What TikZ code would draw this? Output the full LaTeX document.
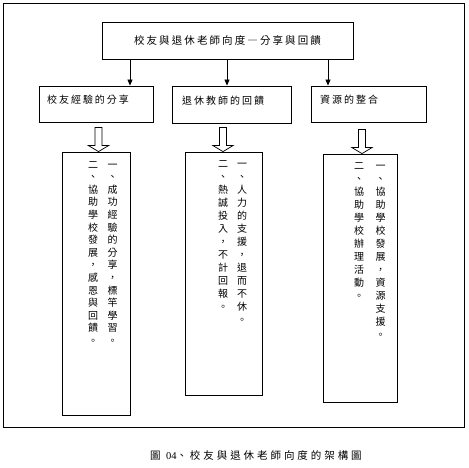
\documentclass[tikz,border=0pt]{standalone}
\usepackage{fontspec}
\setmainfont{Liberation Serif}
\newfontfamily\cjk{Noto Sans CJK TC}
\newfontfamily\cjkwide{Noto Sans CJK TC}[LetterSpace=20]
\newfontfamily\cjkwider{Noto Sans CJK TC}[LetterSpace=28]
\usetikzlibrary{arrows.meta}

% one column of upright text, one character per line
\newlength\vcolsep
\def\vcolend{\vcolend}
\newcommand\vcol[2][12pt]{\setlength\vcolsep{#1}\vbox{\offinterlineskip\vcolloop#2\vcolend}}
\def\vcolloop#1{\ifx\vcolend#1\else\vcell{#1}\expandafter\vcolloop\fi}
\newcommand\vcell[1]{\hbox to 1em{\hss\vrule height\dimexpr\vcolsep-.2em\relax depth .2em width 0pt#1\hss}}

\begin{document}
\begin{tikzpicture}[x=1pt, y=-1pt, >={Stealth[length=6pt,width=5pt,inset=0pt]}, line width=0.8pt,
  box/.style={draw, inner sep=0pt},
  htext/.style={font=\cjkwide\fontsize{10}{12}\selectfont, inner sep=0pt},
  vtext/.style={font=\cjk\fontsize{10}{12}\selectfont, inner sep=0pt},
  bigarrow/.style={draw, line width=0.7pt, line join=miter}]
  \useasboundingbox (0,0) rectangle (469,468);
  \draw (3.5,3.5) rectangle (464,427);
  % top
  \node[box, minimum width=251pt, minimum height=37pt, htext, font=\cjkwide\fontsize{10.5}{12}\selectfont] (title) at (227.5,40.5) {校友與退休老師向度―分享與回饋};
  % second row
  \node[box, minimum width=114pt, minimum height=36pt] (share) at (96,104) {};
  \node[htext, anchor=west] (shareT) at ([xshift=8pt,yshift=4pt]share.west) {校友經驗的分享};
  \node[box, minimum width=119pt, minimum height=37pt] (retire) at (231.5,104.5) {};
  \node[htext, anchor=west] (retireT) at ([xshift=10pt,yshift=4pt]retire.west) {退休教師的回饋};
  \node[box, minimum width=115pt, minimum height=36pt] (resource) at (368.5,104) {};
  \node[htext, anchor=west] (resourceT) at ([xshift=9pt,yshift=4pt]resource.west) {資源的整合};
  \draw[->] (title.south -| 130,0) -- (share.north -| 130,0);
  \draw[->] (title.south -| 227,0) -- (retire.north -| 227,0);
  \draw[->] (title.south -| 328,0) -- (resource.north -| 328,0);
  % tall boxes
  \node[box, minimum width=68pt, minimum height=263pt] (expA) at (96,283.5) {};
  \node[box, minimum width=77pt, minimum height=243pt] (expB) at (223.5,273.5) {};
  \node[box, minimum width=74pt, minimum height=248pt] (expC) at (360,278) {};
  % hollow arrows, drawn up from the tip
  \draw[bigarrow] ([shift={(-1,-24)}]expA.north) -- ++(0,18) -- ++(-6.5,0) -- ++(10,6) -- ++(10,-6) -- ++(-6.5,0) -- ++(0,-18) -- cycle;
  \draw[bigarrow] ([shift={(-4,-24)}]expB.north) -- ++(0,18) -- ++(-6.5,0) -- ++(10,6) -- ++(10,-6) -- ++(-6.5,0) -- ++(0,-18) -- cycle;
  \draw[bigarrow] ([shift={(-1.5,-24)}]expC.north) -- ++(0,18) -- ++(-6.5,0) -- ++(10,6) -- ++(10,-6) -- ++(-6.5,0) -- ++(0,-18) -- cycle;
  % columns, read right to left
  \node[vtext, anchor=north] (expA1) at (112.5,157) {\vcol[12.6pt]{一、成功經驗的分享，標竿學習。}};
  \node[vtext, anchor=north] (expA2) at (93,157) {\vcol[12.6pt]{二、協助學校發展，感恩與回饋。}};
  \node[vtext, anchor=north] (expB1) at (242,156) {\vcol[13pt]{一、人力的支援，退而不休。}};
  \node[vtext, anchor=north] (expB2) at (223,156) {\vcol[13pt]{二、熱誠投入，不計回報。}};
  \node[vtext, anchor=north] (expC1) at (380.5,158) {\vcol[13pt]{一、協助學校發展，資源支援。}};
  \node[vtext, anchor=north] (expC2) at (359,158) {\vcol[13pt]{二、協助學校辦理活動。}};
  % caption
  \node[htext, font=\cjkwider\fontsize{10.5}{12}\selectfont] (caption) at (256,455) {圖 {\rmfamily 04}、校友與退休老師向度的架構圖};
\end{tikzpicture}
\end{document}
